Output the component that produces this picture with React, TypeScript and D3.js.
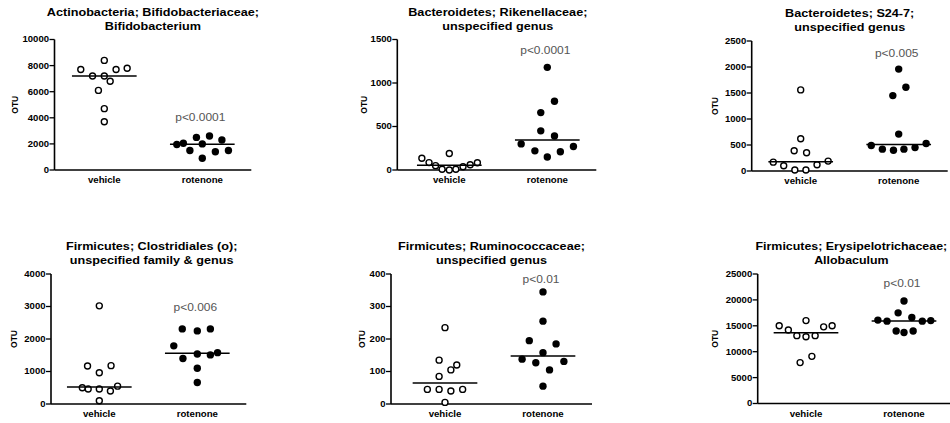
import React from "react";
import * as d3 from "d3";

// ---- data -------------------------------------------------------------
const GROUPS = ["vehicle", "rotenone"];

// Actinobacteria; Bifidobacteriaceae; Bifidobacterium
const bifidoTicks = [0, 2000, 4000, 6000, 8000, 10000];
const bifidoVehicle = [7700, 8400, 7200, 7200, 7700, 7800, 6800, 6100, 4700, 3700];
const bifidoVehicleSlots = [-3.6, 0, -1.8, 0, 1.8, 3.5, 0.9, -0.9, 0, 0];
const bifidoRotenone = [1950, 2050, 1500, 2500, 2000, 900, 2600, 1400, 2300, 1500];
const bifidoRotenoneSlots = [-3.9, -2.9, -1.9, -0.9, 0, 0, 1.1, 2, 3, 4];

// Bacteroidetes; Rikenellaceae; unspecified genus
const rikenTicks = [0, 500, 1000, 1500];
const rikenVehicle = [135, 85, 50, 8, 0, 8, 38, 61, 84, 190];
const rikenVehicleSlots = [-4.2, -3.1, -2.1, -1.1, 0, 1, 2.1, 3.2, 4.3, 0];
const rikenRotenone = [300, 220, 150, 210, 270, 450, 390, 660, 790, 1180];
const rikenRotenoneSlots = [-4, -1.9, 0, 2, 4, -1, 1.1, -1, 1.1, 0];

// Bacteroidetes; S24-7; unspecified genus
const s247Ticks = [0, 500, 1000, 1500, 2000, 2500];
const s247Vehicle = [170, 100, 20, 20, 120, 190, 390, 350, 620, 1560];
const s247VehicleSlots = [-4.2, -2.6, -0.9, 0.8, 2.5, 4.2, -1, 0.9, 0, 0];
const s247Rotenone = [490, 420, 400, 420, 450, 530, 710, 1450, 1610, 1960];
const s247RotenoneSlots = [-4.2, -2.5, -0.8, 0.8, 2.5, 4.2, 0, -0.9, 1.1, 0];

// Firmicutes; Clostridiales (o); unspecified family & genus
const clostTicks = [0, 1000, 2000, 3000, 4000];
const clostVehicle = [500, 460, 460, 400, 550, 100, 960, 1170, 1180, 3020];
const clostVehicleSlots = [-2.6, -1.7, 0, 1.7, 2.8, 0, 0, -1.8, 1.8, 0];
const clostRotenone = [1790, 1400, 1540, 1510, 1580, 1100, 660, 2310, 2250, 2310];
const clostRotenoneSlots = [-3.6, -2.2, 0, 2, 3.1, 0, 0, -2.3, 0, 2];

// Firmicutes; Ruminococcaceae; unspecified genus
const ruminoTicks = [0, 100, 200, 300, 400];
const ruminoVehicle = [45, 45, 40, 45, 5, 85, 105, 120, 135, 235];
const ruminoVehicleSlots = [-2.7, -0.9, 0.9, 2.7, 0, -0.9, 0.9, 1.8, -0.9, 0];
const ruminoRotenone = [138, 127, 158, 105, 131, 55, 195, 185, 255, 345];
const ruminoRotenoneSlots = [-3.2, -1.1, 0, 1, 3.2, 0, -2.1, 2, 0, 0];

// Firmicutes; Erysipelotrichaceae; Allobaculum
const alloTicks = [0, 5000, 10000, 15000, 20000, 25000];
const alloVehicle = [15000, 14200, 13100, 12900, 13100, 14800, 15000, 16000, 9100, 7900];
const alloVehicleSlots = [-4.1, -2.7, -1.4, 0, 1.4, 2.7, 4, 0, 0.9, -0.9];
const alloRotenone = [16100, 15900, 17500, 19800, 16600, 15900, 16000, 14000, 13700, 14000];
const alloRotenoneSlots = [-4, -2.6, -0.9, 0, 1.2, 2.8, 4.1, -1.2, 0, 1.4];

const titles = [
  ["Actinobacteria; Bifidobacteriaceae;", "Bifidobacterium"],
  ["Bacteroidetes; Rikenellaceae;", "unspecified genus"],
  ["Bacteroidetes; S24-7;", "unspecified genus"],
  ["Firmicutes; Clostridiales (o);", "unspecified family & genus"],
  ["Firmicutes; Ruminococcaceae;", "unspecified genus"],
  ["Firmicutes; Erysipelotrichaceae;", "Allobaculum"],
];
const pLabels = ["p<0.0001", "p<0.0001", "p<0.005", "p<0.006", "p<0.01", "p<0.01"];
const pLabelLevels = [4000, 1375, 2270, 2960, 385, 23200];

// ---- layout -----------------------------------------------------------
const W = 950;
const H = 423;
const CAT_W = 196;
const FONT = "'Liberation Sans', Arial, Helvetica, sans-serif";
const GLYPH_STRETCH = 1.15;

const layout = [
  { axisX: 54.5, catX0: 55.3, top: 39.5, bottom: 170, otuX: 15, titleDx: 0, titleSize: 11 },
  { axisX: 397.3, catX0: 400.3, top: 39.5, bottom: 170, otuX: 364, titleDx: 1, titleSize: 11 },
  { axisX: 751.7, catX0: 751.7, top: 41, bottom: 171, otuX: 715, titleDx: 0, titleSize: 11 },
  { axisX: 51, catX0: 50.3, top: 274, bottom: 404, otuX: 13.5, titleDx: 3, titleSize: 11 },
  { axisX: 391, catX0: 396, top: 274, bottom: 404, otuX: 362, titleDx: 0, titleSize: 11 },
  { axisX: 757.7, catX0: 757, top: 274, bottom: 403.5, otuX: 715, titleDx: -4, titleSize: 10.8 },
];

const panels = [
  { ticks: bifidoTicks, veh: bifidoVehicle, vehS: bifidoVehicleSlots, rot: bifidoRotenone, rotS: bifidoRotenoneSlots },
  { ticks: rikenTicks, veh: rikenVehicle, vehS: rikenVehicleSlots, rot: rikenRotenone, rotS: rikenRotenoneSlots },
  { ticks: s247Ticks, veh: s247Vehicle, vehS: s247VehicleSlots, rot: s247Rotenone, rotS: s247RotenoneSlots },
  { ticks: clostTicks, veh: clostVehicle, vehS: clostVehicleSlots, rot: clostRotenone, rotS: clostRotenoneSlots },
  { ticks: ruminoTicks, veh: ruminoVehicle, vehS: ruminoVehicleSlots, rot: ruminoRotenone, rotS: ruminoRotenoneSlots },
  { ticks: alloTicks, veh: alloVehicle, vehS: alloVehicleSlots, rot: alloRotenone, rotS: alloRotenoneSlots },
].map((p, i) => ({ ...p, title: titles[i], pText: pLabels[i], pLevel: pLabelLevels[i] }));

type LabelProps = {
  x: number;
  y: number;
  size: number;
  bold?: boolean;
  anchor?: "start" | "middle" | "end";
  fill?: string;
  vertical?: boolean;
  dy?: string;
  children: React.ReactNode;
};

function Label({ x, y, size, bold = true, anchor = "middle", fill = "#000", vertical = false, dy, children }: LabelProps) {
  const transform = vertical
    ? `translate(${x},${y}) rotate(-90) scale(1,${GLYPH_STRETCH})`
    : `translate(${x},${y}) scale(${GLYPH_STRETCH},1)`;
  return (
    <text
      transform={transform}
      fontFamily={FONT}
      fontSize={size}
      fontWeight={bold ? 700 : 400}
      textAnchor={anchor}
      fill={fill}
      dy={dy}
    >
      {children}
    </text>
  );
}

function Panel({ spec, box }: { spec: (typeof panels)[number]; box: (typeof layout)[number] }) {
  const x = d3.scalePoint<string>().domain(GROUPS).range([box.catX0, box.catX0 + CAT_W]).padding(0.5);
  const yMax = spec.ticks[spec.ticks.length - 1];
  const y = d3.scaleLinear().domain([0, yMax]).range([box.bottom, box.top]);
  const slot = x.step() / 15;
  const halfMedian = x.step() * 0.33;
  const xRight = box.catX0 + CAT_W;
  const titleX = (box.axisX + xRight) / 2 + box.titleDx;

  const series = [
    { group: "vehicle", values: spec.veh, slots: spec.vehS, open: true },
    { group: "rotenone", values: spec.rot, slots: spec.rotS, open: false },
  ];

  return (
    <g>
      {/* title */}
      <Label x={titleX} y={box.top - 24} size={box.titleSize}>{spec.title[0]}</Label>
      <Label x={titleX} y={box.top - 10} size={box.titleSize}>{spec.title[1]}</Label>

      {/* y axis */}
      <line x1={box.axisX} x2={box.axisX} y1={y(yMax)} y2={box.bottom} stroke="#000" strokeWidth={1.6} />
      {spec.ticks.map((t) => (
        <g key={t}>
          <line x1={box.axisX - 5} x2={box.axisX} y1={y(t)} y2={y(t)} stroke="#000" strokeWidth={1.3} />
          <Label x={box.axisX - 5.5} y={y(t)} size={8.3} anchor="end" dy="0.35em">
            {t}
          </Label>
        </g>
      ))}
      <Label x={box.otuX} y={(box.top + box.bottom) / 2} size={8.5} vertical dy="0.35em">
        OTU
      </Label>

      {/* x axis */}
      <line x1={box.axisX} x2={xRight} y1={box.bottom} y2={box.bottom} stroke="#000" strokeWidth={1.6} />
      {GROUPS.map((g) => (
        <Label key={g} x={x(g)!} y={box.bottom + 13.3} size={8.4}>
          {g}
        </Label>
      ))}

      {/* points and medians */}
      {series.map((s) => {
        const cx = x(s.group)!;
        const med = d3.median(s.values)!;
        return (
          <g key={s.group}>
            {s.values.map((v, i) =>
              s.open ? (
                <circle key={i} cx={cx + s.slots[i] * slot} cy={y(v)} r={3} fill="#fff" stroke="#000" strokeWidth={1.4} />
              ) : (
                <circle key={i} cx={cx + s.slots[i] * slot} cy={y(v)} r={3.7} fill="#000" />
              )
            )}
            <line x1={cx - halfMedian} x2={cx + halfMedian} y1={y(med)} y2={y(med)} stroke="#000" strokeWidth={1.5} />
          </g>
        );
      })}

      {/* significance */}
      <Label x={x("rotenone")! - 2} y={y(spec.pLevel)} size={10.4} bold={false} fill="#555" dy="0.35em">
        {spec.pText}
      </Label>
    </g>
  );
}

export default function App() {
  return (
    <svg
      width={W}
      height={H}
      viewBox={`0 0 ${W} ${H}`}
      style={{ position: "absolute", left: 0, top: 0, display: "block", background: "#fff" }}
    >
      <rect width={W} height={H} fill="#fff" />
      {panels.map((p, i) => (
        <Panel key={i} spec={p} box={layout[i]} />
      ))}
    </svg>
  );
}
